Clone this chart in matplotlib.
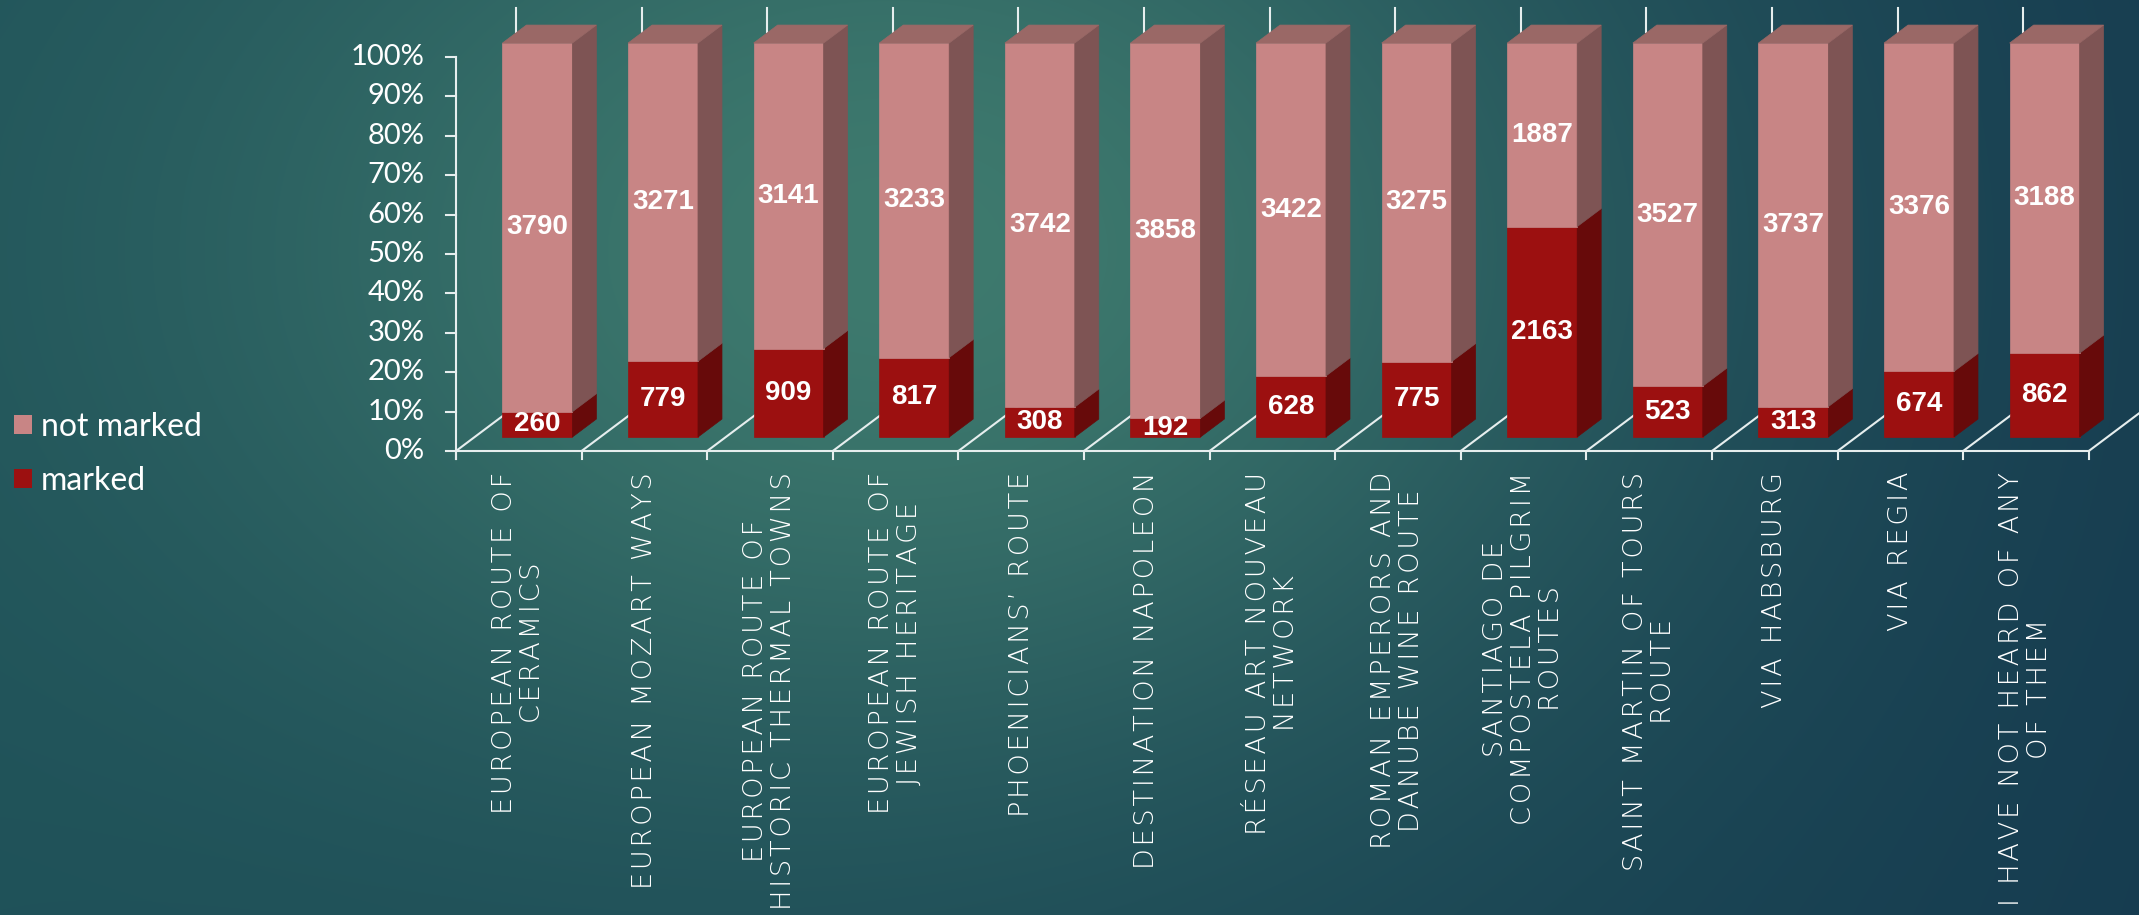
import numpy as np
import matplotlib
matplotlib.use("Agg")
import matplotlib.pyplot as plt
from matplotlib.patches import Polygon, Patch

categories = [
    "EUROPEAN ROUTE OF\nCERAMICS",
    "EUROPEAN MOZART WAYS",
    "EUROPEAN ROUTE OF\nHISTORIC THERMAL TOWNS",
    "EUROPEAN ROUTE OF\nJEWISH HERITAGE",
    "PHOENICIANS\u2019 ROUTE",
    "DESTINATION NAPOLEON",
    "RÉSEAU ART NOUVEAU\nNETWORK",
    "ROMAN EMPERORS AND\nDANUBE WINE ROUTE",
    "SANTIAGO DE\nCOMPOSTELA PILGRIM\nROUTES",
    "SAINT MARTIN OF TOURS\nROUTE",
    "VIA HABSBURG",
    "VIA REGIA",
    "I HAVE NOT HEARD OF ANY\nOF THEM",
]
marked = [260, 779, 909, 817, 308, 192, 628, 775, 2163, 523, 313, 674, 862]
not_marked = [3790, 3271, 3141, 3233, 3742, 3858, 3422, 3275, 1887, 3527, 3737, 3376, 3188]
y_ticks = [0, 10, 20, 30, 40, 50, 60, 70, 80, 90, 100]

plt.rcParams['font.family'] = ['Lato', 'DejaVu Sans']

W, H = 2139, 915
fig = plt.figure(figsize=(W / 100, H / 100), dpi=100)

# background gradient
bg_ax = fig.add_axes([0, 0, 1, 1], zorder=-10)
yy, xx = np.mgrid[0:H, 0:W]
left_col = np.array([30, 80, 88]) / 255
right_col = np.array([22, 60, 80]) / 255
glow_col = np.array([62, 122, 110]) / 255
t = (xx / W)[..., None]
base = left_col * (1 - t) + right_col * t
w = np.exp(-(((xx - 900) / 900) ** 2 + ((yy - 250) / 650) ** 2) * 1.5)[..., None]
bg = base + (glow_col - base) * w
bg_ax.imshow(bg, aspect='auto', extent=(0, W, H, 0))
bg_ax.axis('off')

# main axes: x in categories, y in percent
x0_px, y0_px = 456, 451
cat_px, pct_px = 125.6, 3.94
ax = fig.add_axes([0, 0, 1, 1])
ax.set_xlim(-x0_px / cat_px, (W - x0_px) / cat_px)
ax.set_ylim(-(H - y0_px) / pct_px, y0_px / pct_px)
ax.axis('off')
ax.patch.set_visible(False)

n = len(categories)
DX, DY = 60 / cat_px, 45 / pct_px      # floor depth
F0, F1 = 0.31, 0.71                     # bar front / back depth
bar_w = 0.557
gap = (1 - bar_w) / 2
line_c = '#e6eeee'
lw = 1.5

nm_front, nm_side, nm_top = '#c88585', '#7e5454', '#9a6866'
m_front, m_side, m_top = '#9c1010', '#670a0a', '#7a0c0c'


def P(x, y, f):
    return (x + f * DX, y + f * DY)


def spaced(s):
    # wide letter tracking like the original theme font
    return "\n".join("\u200a".join(line) for line in s.split("\n"))


# floor / axis lines
ax.plot([0, n], [0, 0], color=line_c, lw=lw, zorder=1)
for k in range(n + 1):
    ax.plot([k, k + DX], [0, DY], color=line_c, lw=lw, zorder=1)
    ax.plot([k, k], [0, -2.0], color=line_c, lw=lw, zorder=1)
for k in range(n):
    ax.plot([k + DX, k + DX], [DY + 95, DY + 101], color=line_c, lw=lw, zorder=1)
ax.plot([0, 0], [-2.0, 100], color=line_c, lw=lw, zorder=1)
for v in y_ticks:
    ax.plot([-0.08, 0], [v, v], color=line_c, lw=lw, zorder=1)
    ax.text(-0.25, v, f"{v}%", ha='right', va='center', color='white', fontsize=21)


def box(xl, xr, y0, y1, front, side, top, draw_top):
    faces = [
        ([P(xl, y0, F0), P(xr, y0, F0), P(xr, y1, F0), P(xl, y1, F0)], front),
        ([P(xr, y0, F0), P(xr, y0, F1), P(xr, y1, F1), P(xr, y1, F0)], side),
    ]
    if draw_top:
        faces.append(([P(xl, y1, F0), P(xr, y1, F0), P(xr, y1, F1), P(xl, y1, F1)], top))
    for pts, c in faces:
        ax.add_patch(Polygon(pts, closed=True, facecolor=c, edgecolor=c, lw=0.5, zorder=3))


for i in range(n):
    total = marked[i] + not_marked[i]
    m_pct = marked[i] / total * 100
    xl, xr = i + gap, i + gap + bar_w
    box(xl, xr, 0, m_pct, m_front, m_side, m_top, False)
    box(xl, xr, m_pct, 100, nm_front, nm_side, nm_top, True)
    cx = (xl + xr) / 2 + F0 * DX
    ax.text(cx, m_pct / 2 + F0 * DY, str(marked[i]), ha='center', va='center',
            color='white', fontsize=20, fontweight='bold',
            family='Liberation Sans', zorder=5)
    ax.text(cx, (m_pct + 100) / 2 + F0 * DY, str(not_marked[i]), ha='center',
            va='center', color='white', fontsize=20, fontweight='bold',
            family='Liberation Sans', zorder=5)
    ax.text(i + 0.5, -5.3, spaced(categories[i]), rotation=90, ha='center', va='top',
            multialignment='center', color='white', fontsize=19.6,
            family='DejaVu Sans', fontweight='light', linespacing=1.15)

handles = [Patch(facecolor=nm_front, label='not marked'),
           Patch(facecolor=m_front, label='marked')]
fig.legend(handles=handles, loc='upper left', bbox_to_anchor=(14 / W, 1 - 412 / H),
           frameon=False, fontsize=23, handlelength=0.55, handleheight=0.55,
           handletextpad=0.3, labelspacing=0.75, borderpad=0, borderaxespad=0,
           labelcolor='white')

fig.savefig('out.png', dpi=100)
